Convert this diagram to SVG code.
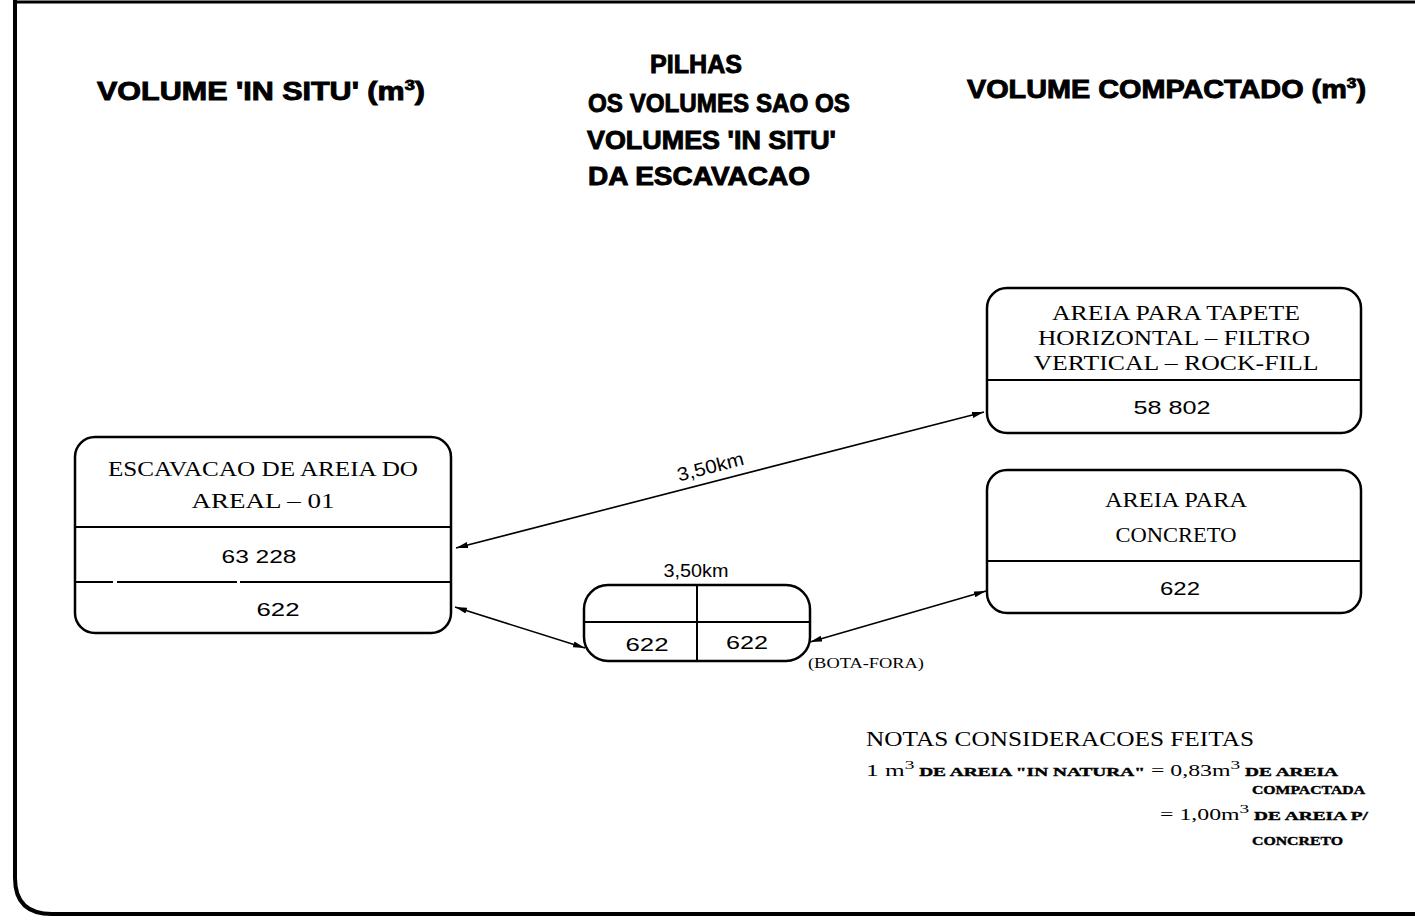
<svg xmlns="http://www.w3.org/2000/svg" width="1415" height="921" viewBox="0 0 1415 921">
<style>
.box{fill:#fff;stroke:#000;stroke-width:2.5}
.div{stroke:#000;stroke-width:2}
.hd{font-family:"Liberation Sans",Arial,sans-serif;font-weight:bold;font-size:25px;fill:#000;stroke:#000;stroke-width:0.9}
.lbl{font-family:"Liberation Serif","Times New Roman",serif;font-size:21px;fill:#000;text-anchor:middle}
.num{font-family:"Liberation Sans",Arial,sans-serif;font-size:19px;fill:#000;text-anchor:middle}
.small{font-family:"Liberation Serif","Times New Roman",serif;font-size:13px;font-weight:bold;fill:#000;stroke:#000;stroke-width:0.4}
.note{font-family:"Liberation Serif","Times New Roman",serif;fill:#000}
.con{stroke:#000;stroke-width:1.6;fill:none;marker-start:url(#ah);marker-end:url(#ah)}
</style>
<defs>
<marker id="ah" viewBox="0 0 12 6" refX="12" refY="3" markerWidth="12" markerHeight="6" markerUnits="userSpaceOnUse" orient="auto-start-reverse">
<path d="M0,0 L12,3 L0,6 z" fill="#000"/>
</marker>
</defs>
<rect width="1415" height="921" fill="#fff"/>
<g id="frame">
<path d="M15,0 V878 Q15,914 52,914 H1415" fill="none" stroke="#000" stroke-width="4"/>
<path d="M15,2 H1415" fill="none" stroke="#000" stroke-width="3"/>
</g>
<g id="headings">
<text class="hd" x="97" y="100" textLength="328" lengthAdjust="spacingAndGlyphs">VOLUME 'IN SITU' (m<tspan dy="-10" font-size="15">3</tspan><tspan dy="10">)</tspan></text>
<text class="hd" x="650" y="73" textLength="92" lengthAdjust="spacingAndGlyphs">PILHAS</text>
<text class="hd" x="588" y="112" textLength="262" lengthAdjust="spacingAndGlyphs">OS VOLUMES SAO OS</text>
<text class="hd" x="587" y="149" textLength="249" lengthAdjust="spacingAndGlyphs">VOLUMES 'IN SITU'</text>
<text class="hd" x="588" y="185" textLength="222" lengthAdjust="spacingAndGlyphs">DA ESCAVACAO</text>
<text class="hd" x="967" y="98" textLength="399" lengthAdjust="spacingAndGlyphs">VOLUME COMPACTADO (m<tspan dy="-10" font-size="15">3</tspan><tspan dy="10">)</tspan></text>
</g>
<g id="node-escavacao">
<rect class="box" x="75" y="437" width="376" height="196" rx="20"/>
<line class="div" x1="75" y1="527" x2="451" y2="527"/>
<line class="div" x1="75" y1="582" x2="451" y2="582" stroke-dasharray="38 4 120 3 211"/>
<text class="lbl" x="263" y="476" textLength="310" lengthAdjust="spacingAndGlyphs">ESCAVACAO DE AREIA DO</text>
<text class="lbl" x="263" y="508" textLength="143" lengthAdjust="spacingAndGlyphs">AREAL – 01</text>
<text class="num" x="259" y="563" textLength="75" lengthAdjust="spacingAndGlyphs">63 228</text>
<text class="num" x="278" y="616" textLength="43" lengthAdjust="spacingAndGlyphs">622</text>
</g>
<g id="node-tapete">
<rect class="box" x="987" y="288" width="374" height="145" rx="20"/>
<line class="div" x1="987" y1="380" x2="1361" y2="380"/>
<text class="lbl" x="1176" y="320" textLength="248" lengthAdjust="spacingAndGlyphs">AREIA PARA TAPETE</text>
<text class="lbl" x="1174" y="345" textLength="272" lengthAdjust="spacingAndGlyphs">HORIZONTAL – FILTRO</text>
<text class="lbl" x="1176" y="370" textLength="285" lengthAdjust="spacingAndGlyphs">VERTICAL – ROCK-FILL</text>
<text class="num" x="1172" y="414" textLength="77" lengthAdjust="spacingAndGlyphs">58 802</text>
</g>
<g id="node-concreto">
<rect class="box" x="987" y="470" width="374" height="143" rx="20"/>
<line class="div" x1="987" y1="561" x2="1361" y2="561"/>
<text class="lbl" x="1176" y="507" textLength="142" lengthAdjust="spacingAndGlyphs">AREIA PARA</text>
<text class="lbl" x="1176" y="542" textLength="121" lengthAdjust="spacingAndGlyphs">CONCRETO</text>
<text class="num" x="1180" y="595" textLength="40" lengthAdjust="spacingAndGlyphs">622</text>
</g>
<g id="node-pilhas">
<rect class="box" x="584" y="585" width="226" height="76" rx="24"/>
<line class="div" x1="584" y1="622" x2="810" y2="622"/>
<line class="div" x1="697" y1="585" x2="697" y2="661" stroke-width="1.5"/>
<text class="num" x="647" y="651" font-size="23" textLength="43" lengthAdjust="spacingAndGlyphs">622</text>
<text class="num" x="747" y="649" font-size="23" textLength="42" lengthAdjust="spacingAndGlyphs">622</text>
<text class="num" x="696" y="577" font-size="15" textLength="65" lengthAdjust="spacingAndGlyphs">3,50km</text>
<text class="note" x="808" y="668" font-size="14" textLength="116" lengthAdjust="spacingAndGlyphs">(BOTA-FORA)</text>
</g>
<g id="connectors">
<line class="con" x1="984" y1="412" x2="456" y2="548"/>
<text class="num" x="712" y="473" font-size="15" textLength="68" lengthAdjust="spacingAndGlyphs" transform="rotate(-14.5 712 473)">3,50km</text>
<line class="con" x1="455" y1="607" x2="585" y2="648"/>
<line class="con" x1="810" y1="642" x2="986" y2="591"/>
</g>
<g id="notes">
<text class="note" x="866" y="746" font-size="22" textLength="388" lengthAdjust="spacingAndGlyphs">NOTAS   CONSIDERACOES FEITAS</text>
<text class="note" x="866" y="776" textLength="472" lengthAdjust="spacingAndGlyphs"><tspan font-size="17">1 m</tspan><tspan font-size="13" dy="-7">3</tspan><tspan class="small" dy="7"> DE AREIA "IN NATURA"</tspan><tspan font-size="16"> = 0,83m</tspan><tspan font-size="13" dy="-7">3</tspan><tspan class="small" dy="7"> DE AREIA</tspan></text>
<text class="small" x="1252" y="794" textLength="113" lengthAdjust="spacingAndGlyphs">COMPACTADA</text>
<text class="note" x="1160" y="820" textLength="208" lengthAdjust="spacingAndGlyphs"><tspan font-size="16">= 1,00m</tspan><tspan font-size="13" dy="-7">3</tspan><tspan class="small" dy="7"> DE AREIA P/</tspan></text>
<text class="small" x="1252" y="845" textLength="91" lengthAdjust="spacingAndGlyphs">CONCRETO</text>
</g>
</svg>
